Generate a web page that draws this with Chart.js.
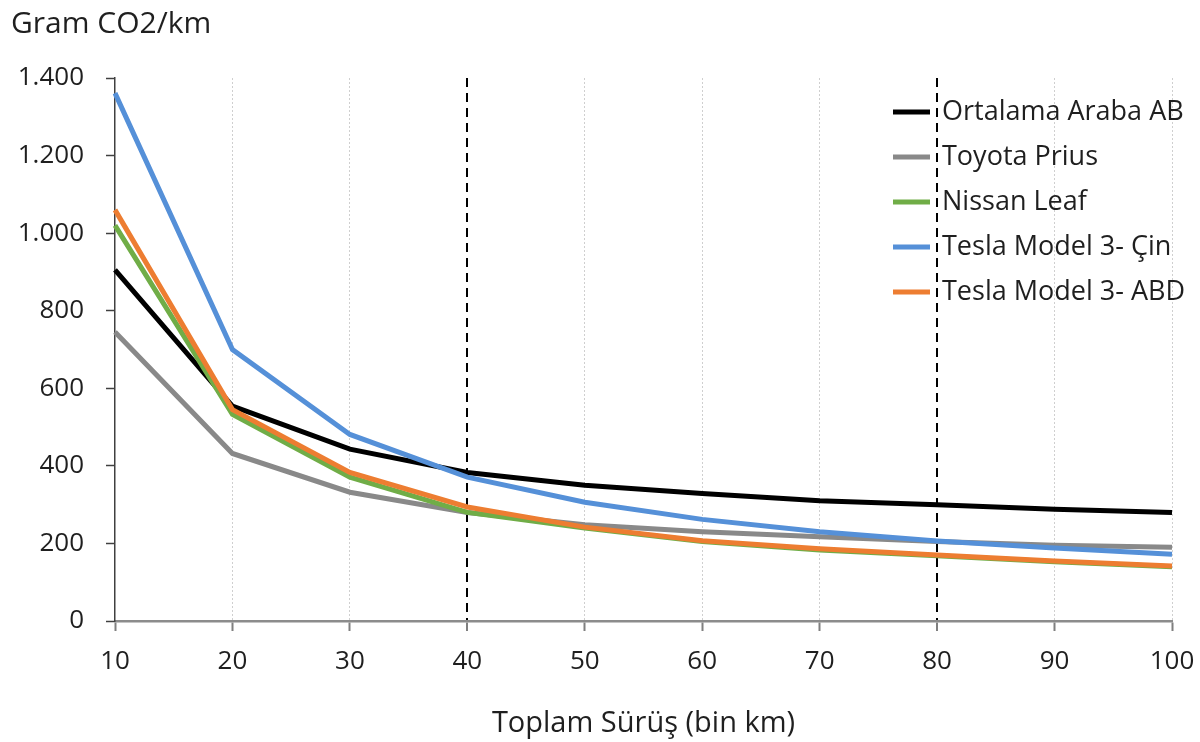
<!DOCTYPE html>
<html>
<head>
<meta charset="utf-8">
<script src="https://cdn.jsdelivr.net/npm/chart.js@4.4.1/dist/chart.umd.min.js"></script>
<style>
  html, body { margin: 0; padding: 0; background: #fff; }
  #wrap { width: 1200px; height: 742px; }
</style>
</head>
<body>
<div id="wrap"><canvas id="chart" width="1200" height="742"></canvas></div>
<script>
// total driving distance, thousand km
const distance = [10, 20, 30, 40, 50, 60, 70, 80, 90, 100];

// gram CO2 per km
const ortalamaArabaAB = [905, 554, 443, 383, 350, 329, 310, 300, 288, 280];
const toyotaPrius     = [745, 432, 332, 280, 248, 230, 217, 205, 195, 190];
const nissanLeaf      = [1020, 533, 371, 280, 240, 205, 183, 168, 153, 140];
const teslaCin        = [1361, 700, 481, 371, 306, 262, 230, 206, 188, 172];
const teslaABD        = [1060, 545, 383, 294, 242, 207, 186, 170, 155, 142];

const seriesNames = ["Ortalama Araba AB", "Toyota Prius", "Nissan Leaf", "Tesla Model 3- Çin", "Tesla Model 3- ABD"];
const markerLines = [40, 80];
const yTitle = "Gram CO2/km";
const xTitle = "Toplam Sürüş (bin km)";

const FONT = '"Open Sans", "DejaVu Sans", sans-serif';
const TEXT = "#1f1f1f";

function fmt(v) {
    if (v >= 1000) return Math.floor(v / 1000) + "." + String(v % 1000).padStart(3, "0");
    return String(v);
}

const overlay = {
    id: "overlay",
    afterDraw(chart) {
        const ctx = chart.ctx;
        ctx.save();
        ctx.fillStyle = TEXT;
        ctx.textBaseline = "middle";
        ctx.font = "30px " + FONT;
        ctx.fillText(yTitle, 11, 24);

        ctx.font = "27px " + FONT;
        chart.data.datasets.forEach((ds, i) => {
            const y = 112 + i * 45;
            ctx.strokeStyle = ds.borderColor;
            ctx.lineWidth = 5;
            ctx.beginPath();
            ctx.moveTo(893, y);
            ctx.lineTo(930, y);
            ctx.stroke();
            ctx.fillText(ds.label, 942, y);
        });
        ctx.restore();
    }
};

function line(label, data, color, order) {
    return {
        label: label,
        data: data,
        borderColor: color,
        backgroundColor: color,
        borderWidth: 5,
        pointRadius: 0,
        tension: 0,
        fill: false,
        order: order
    };
}

const isMarker = c => markerLines.includes(distance[c.index]);

new Chart(document.getElementById("chart").getContext("2d"), {
    type: "line",
    data: {
        labels: distance,
        datasets: [
            line(seriesNames[0], ortalamaArabaAB, "#000000", 5),
            line(seriesNames[1], toyotaPrius, "#898989", 4),
            line(seriesNames[2], nissanLeaf, "#70ad47", 3),
            line(seriesNames[3], teslaCin, "#5590d8", 2),
            line(seriesNames[4], teslaABD, "#ed7d31", 1)
        ]
    },
    options: {
        responsive: false,
        animation: false,
        layout: { autoPadding: false, padding: { top: 78, right: 28, left: 0, bottom: 0 } },
        plugins: {
            legend: { display: false },
            tooltip: { enabled: false }
        },
        scales: {
            x: {
                offset: false,
                ticks: {
                    autoSkip: false,
                    maxRotation: 0,
                    padding: 15,
                    color: TEXT,
                    font: { family: FONT, size: 26 }
                },
                grid: {
                    color: c => c.index === 0 ? "rgba(0,0,0,0)" : (isMarker(c) ? "#000000" : "#cfcfcf"),
                    lineWidth: c => isMarker(c) ? 2 : 1,
                    tickColor: "#7f7f7f",
                    tickLength: 10,
                    tickWidth: 2,
                    tickBorderDash: []
                },
                border: {
                    color: "#8c8c8c",
                    width: 2.5,
                    dash: c => isMarker(c) ? [9, 6] : [2, 2]
                },
                title: {
                    display: true,
                    text: xTitle,
                    color: TEXT,
                    font: { family: FONT, size: 29 },
                    padding: { top: 0, bottom: 1 }
                },
                afterFit: s => { s.height = 121; s.paddingLeft = 0; s.paddingRight = 0; }
            },
            y: {
                min: 0,
                max: 1400,
                ticks: {
                    stepSize: 200,
                    callback: v => fmt(v),
                    padding: 22,
                    color: TEXT,
                    font: { family: FONT, size: 26 }
                },
                grid: {
                    drawOnChartArea: false,
                    tickLength: 9,
                    tickColor: "#404040",
                    tickWidth: 1.5
                },
                border: { color: "#404040", width: 1.5 },
                afterFit: s => { s.width = 115; s.paddingTop = 0; s.paddingBottom = 0; }
            }
        }
    },
    plugins: [overlay]
});
</script>
</body>
</html>
